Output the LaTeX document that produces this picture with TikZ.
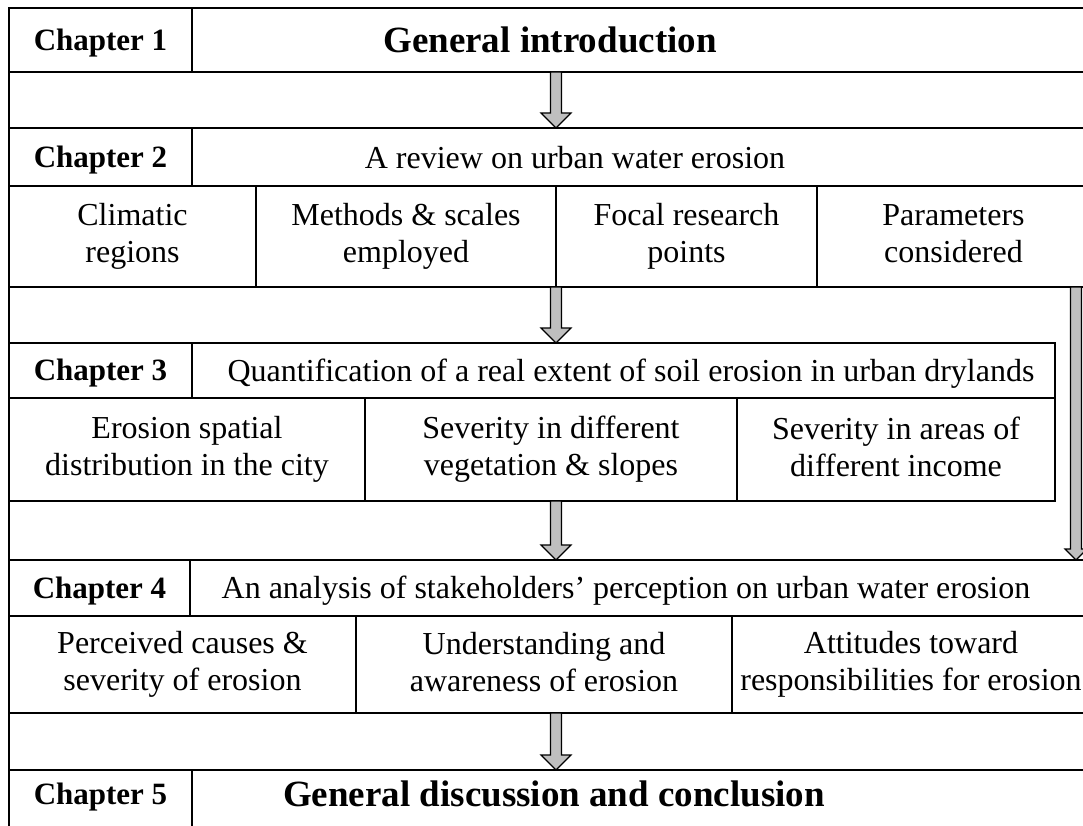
\documentclass[tikz,border=0pt]{standalone}
\usepackage{fontspec}
\setmainfont{Liberation Serif}
\usepackage{tikz}
\usetikzlibrary{calc}

\newcommand{\cellstrut}{\rule[-6pt]{0pt}{33pt}}
% hollow grey block arrow from #2 down to the tip #3, head size #1
\newcommand{\fatarrow}[3][15]{%
  \draw[fatarr] ($(#2)+(-5.5,0)$) -- ($(#3)+(-5.5,-#1)$) -- ($(#3)+(-#1,-#1)$) -- (#3)
    -- ($(#3)+(#1,-#1)$) -- ($(#3)+(5.5,-#1)$) -- ($(#2)+(5.5,0)$) -- cycle;}

\begin{document}
\begin{tikzpicture}[x=1pt,y=-1pt,
  struts/.style={execute at begin node=\cellstrut,execute at end node=\cellstrut},
  cellbox/.style={draw,line width=1.6pt,inner sep=0pt,outer sep=0pt,align=center,
    font=\fontsize{32}{37}\selectfont,struts},
  chaplab/.style={font=\fontsize{31}{36}\selectfont\bfseries,struts},
  headtxt/.style={font=\fontsize{32}{37}\selectfont,inner sep=0pt,struts},
  titletxt/.style={font=\fontsize{37}{42}\selectfont\bfseries,inner sep=0pt,struts},
  fatarr/.style={draw=black,line width=1.2pt,fill=black!25,line join=miter}]
  \useasboundingbox (0,0) rectangle (1083,826);
  \clip (0,0) rectangle (1083,826);

  % outer frame (runs past the right and bottom edges)
  \node[draw,line width=1.6pt,minimum width=1081pt,minimum height=832pt] (frame) at (549.5,424) {};

  % chapter 1
  \node[cellbox,chaplab,minimum width=183pt,minimum height=64pt] (c1lab) at (100.5,40) {Chapter 1};
  \node[cellbox,minimum width=898pt,minimum height=64pt] (c1box) at (641,40) {};
  \node[titletxt] (c1txt) at (550,42) {General introduction};

  % chapter 2
  \node[cellbox,chaplab,minimum width=183pt,minimum height=58pt] (c2lab) at (100.5,157) {Chapter 2};
  \node[cellbox,minimum width=898pt,minimum height=58pt] (c2box) at (641,157) {};
  \node[headtxt] (c2txt) at (575,158) {A review on urban water erosion};
  \node[cellbox,minimum width=247pt,minimum height=101pt] (c2s1) at (132.5,236.5) {Climatic\\regions};
  \node[cellbox,minimum width=300pt,minimum height=101pt] (c2s2) at (406,236.5) {Methods \& scales\\employed};
  \node[cellbox,minimum width=261pt,minimum height=101pt] (c2s3) at (686.5,236.5) {Focal research\\points};
  \node[cellbox,minimum width=273pt,minimum height=101pt] (c2s4) at (953.5,236.5) {Parameters\\considered};

  % chapter 3
  \node[cellbox,chaplab,minimum width=183pt,minimum height=55pt] (c3lab) at (100.5,370.5) {Chapter 3};
  \node[cellbox,minimum width=863pt,minimum height=55pt] (c3box) at (623.5,370.5) {};
  \node[headtxt] (c3txt) at (631,371) {Quantification of a real extent of soil erosion in urban drylands};
  \node[cellbox,minimum width=356pt,minimum height=103pt] (c3s1) at (187,449.5) {Erosion spatial\\distribution in the city};
  \node[cellbox,minimum width=372pt,minimum height=103pt] (c3s2) at (551,449.5) {Severity in different\\vegetation \& slopes};
  \node[cellbox,minimum width=318pt,minimum height=103pt] (c3s3) at (896,449.5) {Severity in areas of\\different income};

  % chapter 4
  \node[cellbox,chaplab,minimum width=181pt,minimum height=56pt] (c4lab) at (99.5,588) {Chapter 4};
  \node[cellbox,minimum width=900pt,minimum height=56pt] (c4box) at (640,588) {};
  \node[headtxt] (c4txt) at (626,588.5) {An analysis of stakeholders’ perception on urban water erosion};
  \node[cellbox,minimum width=347pt,minimum height=97pt] (c4s1) at (182.5,664.5) {Perceived causes \&\\severity of erosion};
  \node[cellbox,minimum width=376pt,minimum height=97pt] (c4s2) at (544,664.5) {Understanding and\\awareness of erosion};
  \node[cellbox,minimum width=358pt,minimum height=97pt] (c4s3) at (911,664.5) {Attitudes toward\\responsibilities for erosion};

  % chapter 5 (cut off at the bottom)
  \node[cellbox,minimum width=183pt,minimum height=70pt] (c5lab) at (100.5,805) {};
  \node[chaplab,inner sep=0pt] (c5labtxt) at (100.5,794) {Chapter 5};
  \node[cellbox,minimum width=898pt,minimum height=70pt] (c5box) at (641,805) {};
  \node[titletxt] (c5txt) at (554,796) {General discussion and conclusion};

  % arrows
  \coordinate (rside) at (1076,0);
  \fatarrow{c1box.south -| c2s2.east}{c2box.north -| c2s2.east}
  \fatarrow{c2s2.south east}{c3box.north -| c2s2.east}
  \fatarrow{c3s2.south -| c2s2.east}{c4box.north -| c2s2.east}
  \fatarrow{c4s2.south -| c2s2.east}{c5box.north -| c2s2.east}
  \fatarrow[11]{c2s4.south -| rside}{c4box.north -| rside}
\end{tikzpicture}
\end{document}
